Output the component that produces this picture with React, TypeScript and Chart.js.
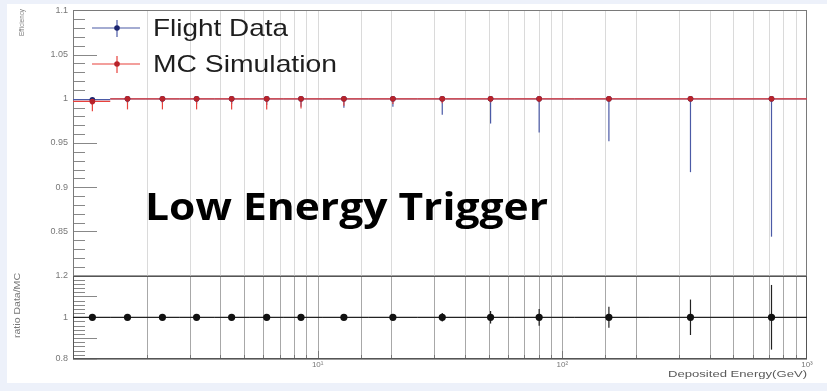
import React, { useEffect, useRef } from 'react';
import { Chart, registerables } from 'chart.js';

Chart.register(...registerables);

// Deposited-energy bins (GeV): centres and edges
const binCenters = [1.2, 1.67, 2.32, 3.2, 4.45, 6.19, 8.55, 12.8, 20.3, 32.3, 50.9, 80.4, 155, 334, 716];
const binLow = [1.0, 1.42, 1.97, 2.72, 3.78, 5.25, 7.27, 10.5, 16.1, 25.6, 40.6, 64, 112, 228, 489];
const binHigh = [1.42, 1.97, 2.72, 3.78, 5.25, 7.27, 10.5, 16.1, 25.6, 40.6, 64, 112, 228, 489, 1000];

// Trigger efficiency, flight data
const flightEff = [0.999, 1, 1, 1, 1, 1, 1, 1, 1, 1, 1, 1, 1, 1, 1];
const flightErrLow = [0.006, 0.005, 0.005, 0.006, 0.006, 0.007, 0.009, 0.01, 0.009, 0.018, 0.028, 0.038, 0.048, 0.083, 0.156];
const flightErrHigh = [0.001, 0, 0, 0, 0, 0, 0, 0, 0, 0, 0, 0, 0, 0, 0];

// Trigger efficiency, MC simulation
const mcEff = [0.997, 1, 1, 1, 1, 1, 1, 1, 1, 1, 1, 1, 1, 1, 1];
const mcErrLow = [0.011, 0.012, 0.012, 0.012, 0.012, 0.012, 0.011, 0.008, 0.006, 0.005, 0.004, 0.004, 0.003, 0.003, 0.003];
const mcErrHigh = [0.003, 0, 0, 0, 0, 0, 0, 0, 0, 0, 0, 0, 0, 0, 0];

// Ratio Data/MC
const ratio = [1, 1, 1, 1, 1, 1, 1, 1, 1, 1, 1, 1, 1, 1, 1];
const ratioErr = [0.006, 0.005, 0.005, 0.005, 0.005, 0.006, 0.008, 0.009, 0.01, 0.02, 0.03, 0.04, 0.05, 0.085, 0.155];

// Axis labels
const xTickValues = [10, 100, 1000];
const xTickLabels = ['10\u00b9', '10\u00b2', '10\u00b3'];
const effTickHidden = [0.8];

const FONT = '"Liberation Sans", Arial, sans-serif';

function fitText(
  ctx: CanvasRenderingContext2D,
  text: string,
  x: number,
  y: number,
  font: string,
  width: number,
  color: string,
  align: CanvasTextAlign = 'left',
  rot = 0
) {
  ctx.save();
  ctx.font = font;
  ctx.fillStyle = color;
  ctx.textBaseline = 'alphabetic';
  ctx.textAlign = align;
  const w = ctx.measureText(text).width || 1;
  ctx.translate(x, y);
  if (rot) ctx.rotate(rot);
  ctx.scale(width / w, 1);
  ctx.fillText(text, 0, 0);
  ctx.restore();
}

function line(ctx: CanvasRenderingContext2D, x1: number, y1: number, x2: number, y2: number) {
  ctx.beginPath();
  ctx.moveTo(x1, y1);
  ctx.lineTo(x2, y2);
  ctx.stroke();
}

const panelPlugin = {
  id: 'panelDecor',
  beforeDraw(chart: any) {
    const { ctx, width, height } = chart;
    ctx.save();
    ctx.fillStyle = '#edf1fa';
    ctx.fillRect(0, 0, width, height);
    ctx.fillStyle = '#ffffff';
    ctx.fillRect(7, 4, width - 7, 379);
    ctx.restore();
  },
  beforeDatasetsDraw(chart: any) {
    const { ctx, scales } = chart;
    const x = scales.x;
    const yt = scales.y;
    const yb = scales.yr;
    ctx.save();
    ctx.lineWidth = 1;

    // logarithmic grid
    for (const t of x.ticks) {
      if (t.value <= x.min || t.value >= x.max) continue;
      const px = Math.round(x.getPixelForValue(t.value)) + 0.5;
      ctx.strokeStyle = '#dadada';
      line(ctx, px, yt.top, px, yt.bottom);
      ctx.strokeStyle = '#a8a8a8';
      line(ctx, px, yb.top, px, yb.bottom);
      const major = xTickValues.includes(t.value);
      ctx.strokeStyle = '#777';
      line(ctx, px, yb.bottom, px, yb.bottom - (major ? 8 : 4));
    }

    // inner tick marks on the efficiency axis
    ctx.strokeStyle = '#888';
    for (let i = 0; i <= 30; i++) {
      const v = 0.8 + i * 0.01;
      const py = Math.round(yt.getPixelForValue(v)) + 0.5;
      const len = i % 5 === 0 ? 24 : 12;
      line(ctx, yt.right, py, yt.right + len, py);
    }
    // inner tick marks on the ratio axis
    for (let i = 0; i <= 20; i++) {
      const v = 0.8 + i * 0.02;
      const py = Math.round(yb.getPixelForValue(v)) + 0.5;
      const len = i % 5 === 0 ? 24 : 12;
      line(ctx, yb.right, py, yb.right + len, py);
    }

    // frames
    ctx.strokeStyle = '#7a7a7a';
    const l = Math.round(x.left) + 0.5;
    const r = Math.round(x.right) - 0.5;
    ctx.strokeRect(l, Math.round(yt.top) + 0.5, r - l, Math.round(yt.bottom) - Math.round(yt.top));
    ctx.strokeStyle = '#555';
    ctx.strokeRect(l, Math.round(yb.top) + 0.5, r - l, Math.round(yb.bottom) - Math.round(yb.top) - 1);

    // error bars
    chart.data.datasets.forEach((ds: any, di: number) => {
      const meta = chart.getDatasetMeta(di);
      if (meta.hidden) return;
      const ys = scales[ds.yAxisID];
      ds.data.forEach((p: any, i: number) => {
        const cx = x.getPixelForValue(p.x);
        const cy = ys.getPixelForValue(p.y);
        const x1 = x.getPixelForValue(ds.xLow[i]);
        const x2 = x.getPixelForValue(ds.xHigh[i]);
        const y1 = ys.getPixelForValue(p.y - ds.errLow[i]);
        const y2 = ys.getPixelForValue(p.y + ds.errHigh[i]);
        ctx.strokeStyle = ds.errColor;
        ctx.lineWidth = 1.2;
        line(ctx, x1, cy, x2, cy);
        line(ctx, cx, y1, cx, y2);
      });
    });
    ctx.restore();
  },
  afterDatasetsDraw(chart: any) {
    const { ctx } = chart;
    const ds = chart.data.datasets;
    ctx.save();

    // legend
    const rows = [
      { d: ds[0], y: 28, w: 135 },
      { d: ds[1], y: 64, w: 184 },
    ];
    for (const row of rows) {
      ctx.strokeStyle = row.d.errColor;
      ctx.lineWidth = 1.2;
      line(ctx, 92, row.y, 140, row.y);
      line(ctx, 117, row.y - 8, 117, row.y + 9);
      ctx.fillStyle = row.d.pointBackgroundColor;
      ctx.beginPath();
      ctx.arc(117, row.y, 2.8, 0, Math.PI * 2);
      ctx.fill();
      fitText(ctx, row.d.label, 153, row.y + 8, `24px ${FONT}`, row.w, '#1e1e1e');
    }

    // panel caption
    fitText(ctx, 'Low Energy Trigger', 145, 220, 'bold 38px "Open Sans", "Noto Sans", sans-serif', 403, '#000');

    // axis titles
    fitText(ctx, 'Efficiency', 24, 9, `7px ${FONT}`, 27, '#777', 'right', -Math.PI / 2);
    fitText(ctx, 'ratio Data/MC', 20, 273, `9px ${FONT}`, 65, '#777', 'right', -Math.PI / 2);
    fitText(ctx, 'Deposited Energy(GeV)', 807, 377, `9px ${FONT}`, 139, '#5a5a5a', 'right');
    ctx.restore();
  },
};

export default function App() {
  const ref = useRef<HTMLCanvasElement | null>(null);

  useEffect(() => {
    if (!ref.current) return;
    const chart = new Chart(ref.current, {
      type: 'scatter',
      data: {
        datasets: [
          {
            label: 'Flight Data',
            yAxisID: 'y',
            data: binCenters.map((c, i) => ({ x: c, y: flightEff[i] })),
            xLow: binLow,
            xHigh: binHigh,
            errLow: flightErrLow,
            errHigh: flightErrHigh,
            errColor: '#4b5aa6',
            pointRadius: 2.8,
            pointBackgroundColor: '#1b2470',
            pointBorderWidth: 0,
            order: 2,
          } as any,
          {
            label: 'MC Simulation',
            yAxisID: 'y',
            data: binCenters.map((c, i) => ({ x: c, y: mcEff[i] })),
            xLow: binLow,
            xHigh: binHigh,
            errLow: mcErrLow,
            errHigh: mcErrHigh,
            errColor: '#e8413b',
            pointRadius: 2.8,
            pointBackgroundColor: '#b8232a',
            pointBorderWidth: 0,
            order: 1,
          } as any,
          {
            label: 'ratio',
            yAxisID: 'yr',
            data: binCenters.map((c, i) => ({ x: c, y: ratio[i] })),
            xLow: binLow,
            xHigh: binHigh,
            errLow: ratioErr,
            errHigh: ratioErr,
            errColor: '#222',
            pointRadius: 3.6,
            pointBackgroundColor: '#111',
            pointBorderWidth: 0,
            order: 0,
          } as any,
        ],
      },
      options: {
        responsive: false,
        animation: false,
        devicePixelRatio: 1,
        layout: { padding: { top: 7, right: 20, left: 0, bottom: 0 } },
        plugins: { legend: { display: false }, tooltip: { enabled: false } },
        scales: {
          x: {
            type: 'logarithmic',
            position: 'bottom',
            min: 1,
            max: 1000,
            grid: { display: false, drawTicks: false },
            border: { display: false },
            afterFit: (s: any) => {
              s.height = 32;
            },
            ticks: {
              autoSkip: false,
              maxRotation: 0,
              padding: 1,
              color: '#777',
              font: { family: FONT, size: 8 },
              callback: (v: any) => {
                const k = xTickValues.indexOf(Number(v));
                return k >= 0 ? xTickLabels[k] : '';
              },
            },
          },
          yr: {
            type: 'linear',
            position: 'left',
            stack: 'panels',
            stackWeight: 84,
            min: 0.8,
            max: 1.2,
            grid: { color: '#9a9a9a', drawTicks: false },
            border: { display: false },
            afterFit: (s: any) => {
              s.width = 73;
            },
            ticks: {
              stepSize: 0.1,
              padding: 5,
              color: '#777',
              font: { family: FONT, size: 9 },
              callback: (v: any) => String(+Number(v).toFixed(2)),
            },
          },
          y: {
            type: 'linear',
            position: 'left',
            stack: 'panels',
            stackWeight: 267,
            min: 0.8,
            max: 1.1,
            grid: { display: false, drawTicks: false },
            border: { display: false },
            afterFit: (s: any) => {
              s.width = 73;
            },
            ticks: {
              stepSize: 0.05,
              padding: 5,
              color: '#777',
              font: { family: FONT, size: 9 },
              callback: (v: any) =>
                effTickHidden.some((h) => Math.abs(Number(v) - h) < 1e-9) ? '' : String(+Number(v).toFixed(2)),
            },
          },
        },
      } as any,
      plugins: [panelPlugin],
    });
    return () => chart.destroy();
  }, []);

  return (
    <div style={{ position: 'fixed', left: 0, top: 0, width: 827, height: 391 }}>
      <canvas ref={ref} width={827} height={391} style={{ width: 827, height: 391, display: 'block' }} />
    </div>
  );
}
